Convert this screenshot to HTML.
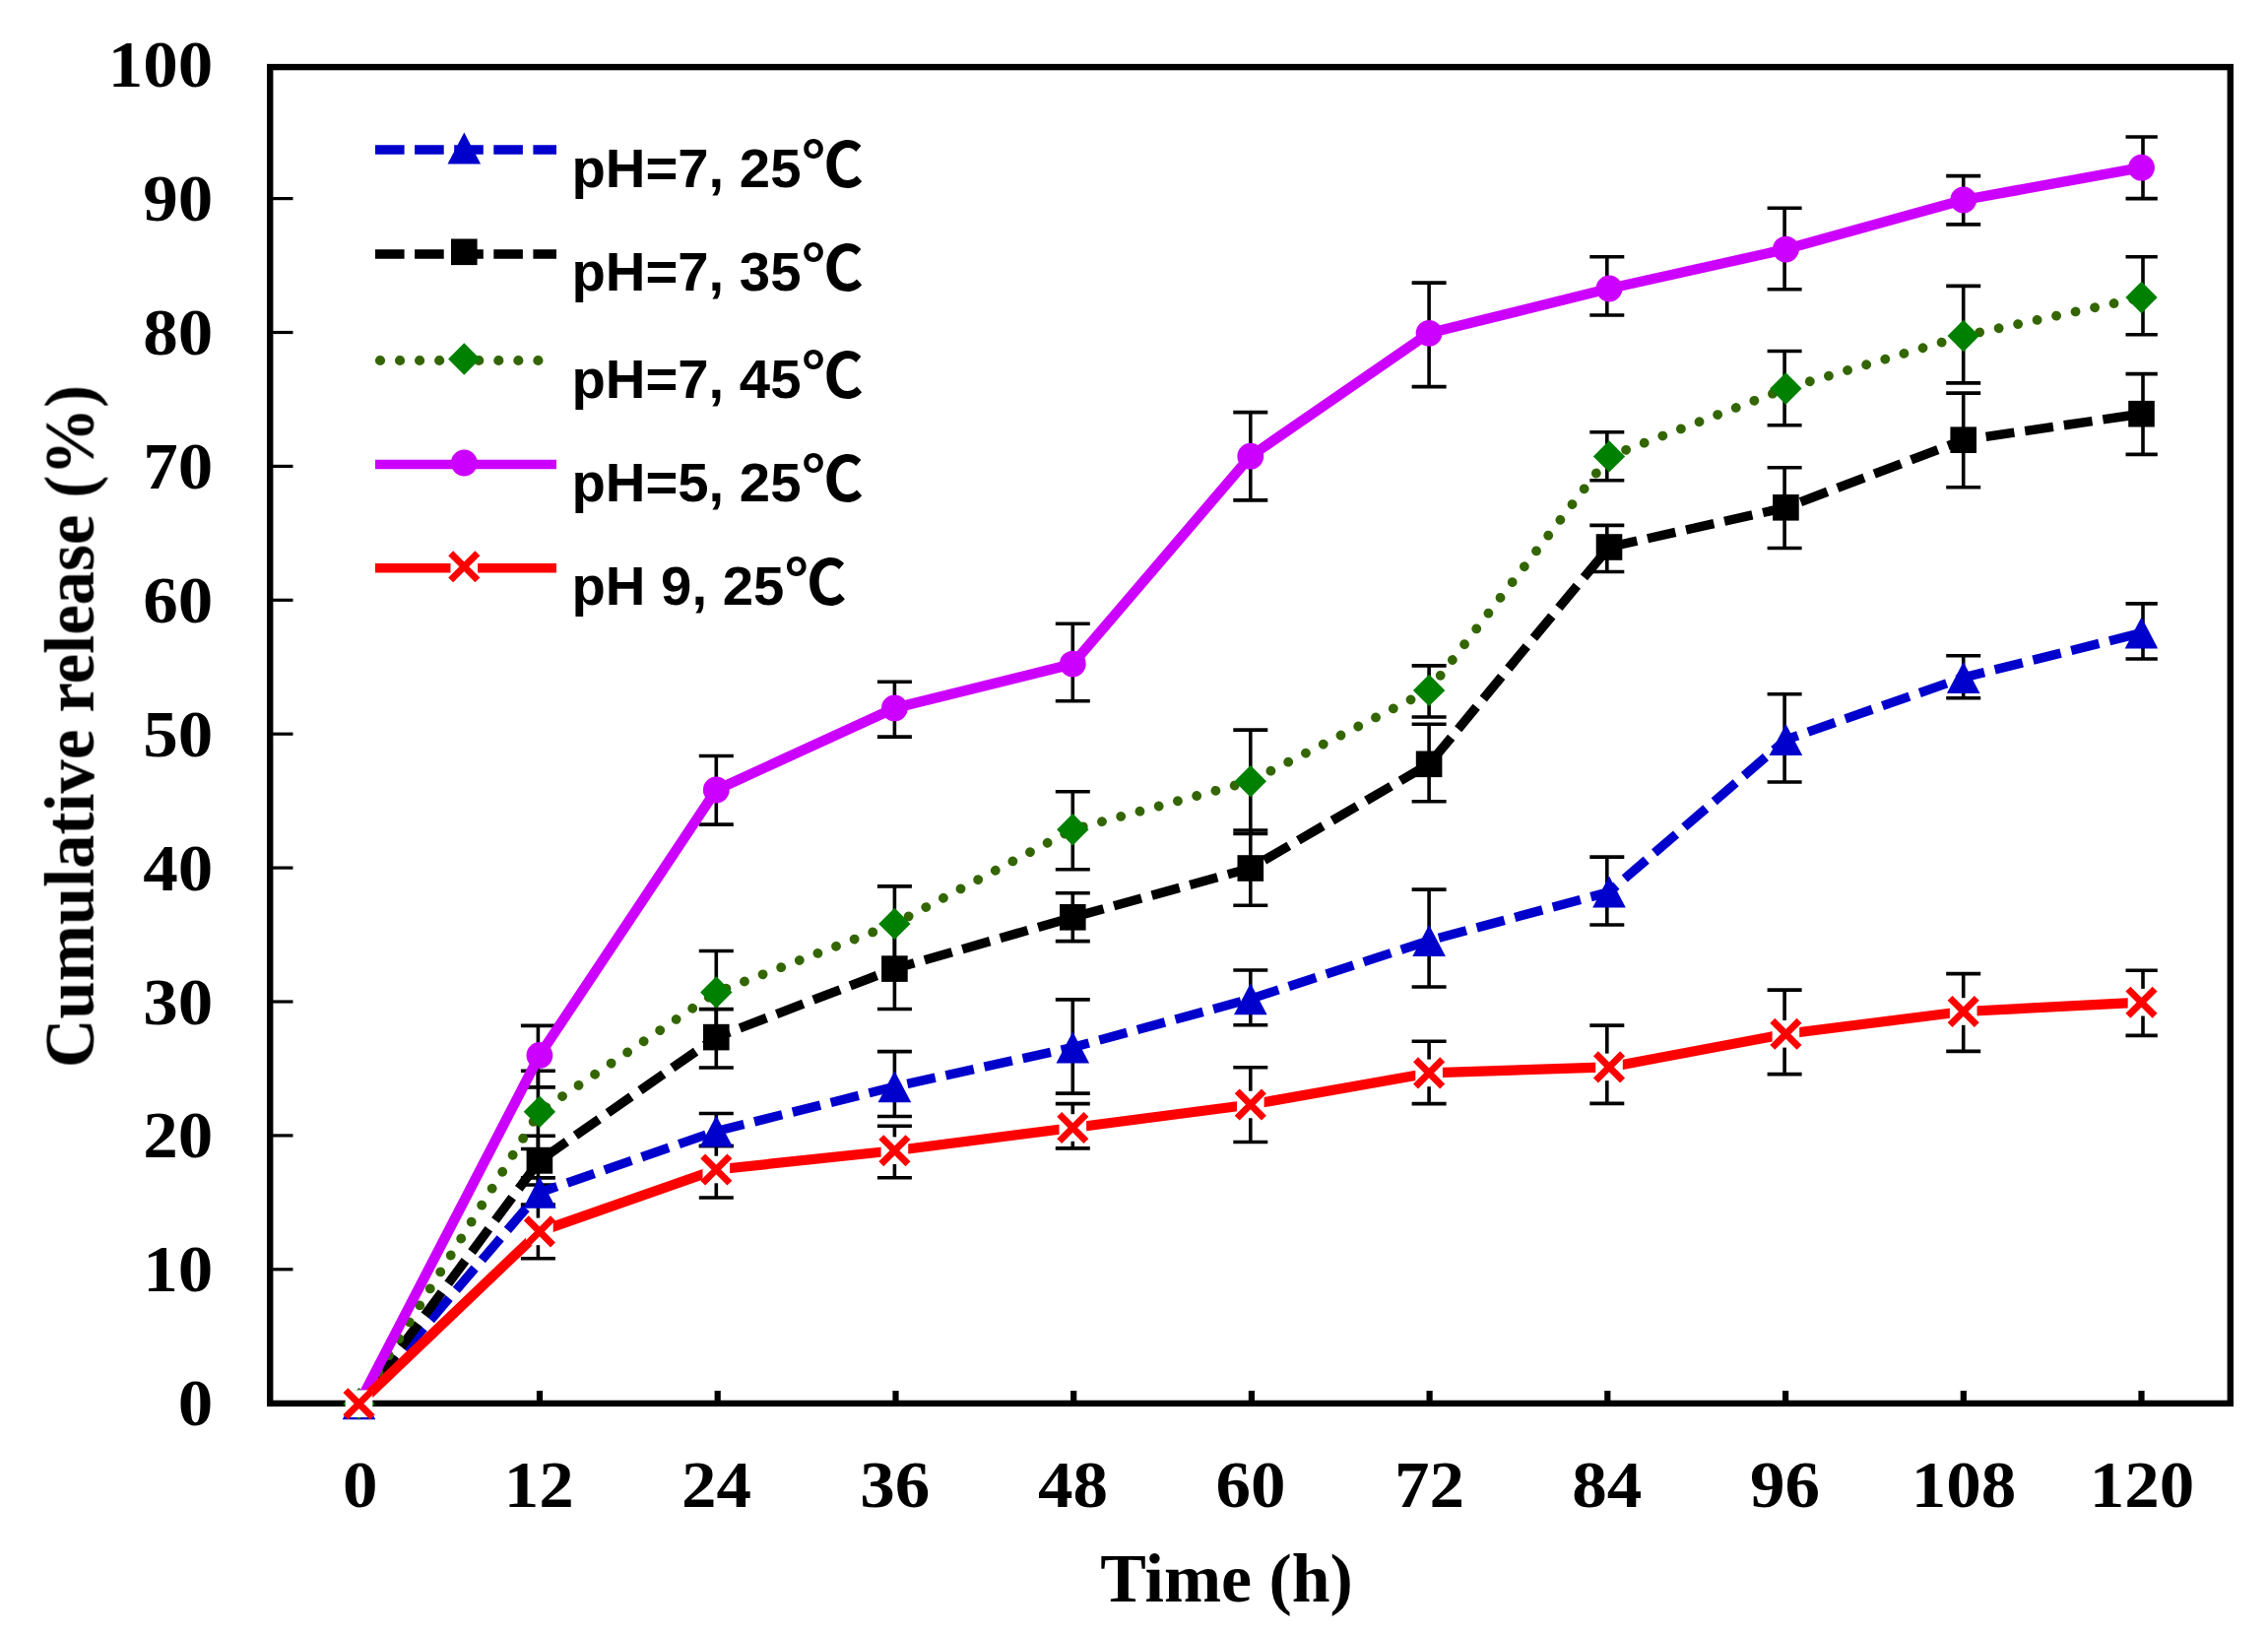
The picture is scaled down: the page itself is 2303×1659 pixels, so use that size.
<!DOCTYPE html>
<html lang="en"><head><meta charset="utf-8"><title>Cumulative release</title>
<style>html,body{margin:0;padding:0;background:#fff}body{width:2303px;height:1659px;overflow:hidden}svg{display:block}
.s{font-family:"Liberation Serif",serif;font-weight:bold;font-size:68px;fill:#000}
.l{font-family:"Liberation Sans",sans-serif;font-weight:bold;font-size:54.6px;fill:#000}
.c{font-family:"Liberation Sans","Noto Sans CJK SC",sans-serif;font-weight:bold;font-size:62px;fill:#000}
</style></head><body>
<svg width="2303" height="1659" viewBox="0 0 2303 1659">
<rect width="2303" height="1659" fill="#fff"/>
<defs><filter id="soft" x="0" y="0" width="2303" height="1659" filterUnits="userSpaceOnUse" color-interpolation-filters="sRGB"><feGaussianBlur stdDeviation="0.7" color-interpolation-filters="sRGB"/></filter></defs>
<g filter="url(#soft)">
<defs><clipPath id="cp"><rect x="277" y="60" width="1913.8" height="1400"/></clipPath></defs>
<g stroke="#000" stroke-width="3.2">
<line x1="276" y1="1288.8" x2="297.5" y2="1288.8"/>
<line x1="276" y1="1152.9" x2="297.5" y2="1152.9"/>
<line x1="276" y1="1017" x2="297.5" y2="1017"/>
<line x1="276" y1="881.1" x2="297.5" y2="881.1"/>
<line x1="276" y1="745.2" x2="297.5" y2="745.2"/>
<line x1="276" y1="609.3" x2="297.5" y2="609.3"/>
<line x1="276" y1="473.4" x2="297.5" y2="473.4"/>
<line x1="276" y1="337.5" x2="297.5" y2="337.5"/>
<line x1="276" y1="201.6" x2="297.5" y2="201.6"/>
</g>
<g stroke="#000" stroke-width="6.2">
<line x1="548" y1="1412" x2="548" y2="1423"/>
<line x1="728.7" y1="1412" x2="728.7" y2="1423"/>
<line x1="909.5" y1="1412" x2="909.5" y2="1423"/>
<line x1="1090.2" y1="1412" x2="1090.2" y2="1423"/>
<line x1="1270.9" y1="1412" x2="1270.9" y2="1423"/>
<line x1="1451.6" y1="1412" x2="1451.6" y2="1423"/>
<line x1="1632.3" y1="1412" x2="1632.3" y2="1423"/>
<line x1="1813.1" y1="1412" x2="1813.1" y2="1423"/>
<line x1="1993.8" y1="1412" x2="1993.8" y2="1423"/>
<line x1="2174.5" y1="1412" x2="2174.5" y2="1423"/>
</g>
<rect x="274.2" y="68.1" width="1990.6" height="1356.8" fill="none" stroke="#000" stroke-width="6.4"/>
<g clip-path="url(#cp)">
<g stroke="#000" stroke-width="3.6" fill="none">
<path d="M546.4 1195.9V1224M528.9 1195.9H563.9M528.9 1224H563.9M727.3 1130.5V1163.5M709.8 1130.5H744.8M709.8 1163.5H744.8M908.4 1067.6V1133.5M890.9 1067.6H925.9M890.9 1133.5H925.9M1089.3 1014.9V1110.1M1071.8 1014.9H1106.8M1071.8 1110.1H1106.8M1269.8 985V1040.8M1252.3 985H1287.3M1252.3 1040.8H1287.3M1451.1 903.1V1002M1433.6 903.1H1468.6M1433.6 1002H1468.6M1631.8 870.1V939M1614.3 870.1H1649.3M1614.3 939H1649.3M1812.1 704.7V794M1794.6 704.7H1829.6M1794.6 794H1829.6M1993.7 665.7V708.7M1976.2 665.7H2011.2M1976.2 708.7H2011.2M2176 612.9V669M2158.5 612.9H2193.5M2158.5 669H2193.5"/>
<path d="M546.4 1153.3V1203M528.9 1153.3H563.9M528.9 1203H563.9M727.3 1024.6V1084M709.8 1024.6H744.8M709.8 1084H744.8M908.4 942.7V1024.5M890.9 1024.5H925.9M1089.3 906.7V955.6M1071.8 906.7H1106.8M1071.8 955.6H1106.8M1269.8 843V919.2M1252.3 843H1287.3M1252.3 919.2H1287.3M1451.1 735.2V813.8M1433.6 735.2H1468.6M1433.6 813.8H1468.6M1631.8 533.4V580.5M1614.3 533.4H1649.3M1614.3 580.5H1649.3M1812.1 474.7V556.5M1794.6 474.7H1829.6M1794.6 556.5H1829.6M1993.7 399.1V494.8M1976.2 399.1H2011.2M1976.2 494.8H2011.2M2176 379.6V461.4M2158.5 379.6H2193.5M2158.5 461.4H2193.5"/>
<path d="M546.4 1087.3V1166.5M528.9 1087.3H563.9M528.9 1166.5H563.9M727.3 965.5V1050M709.8 965.5H744.8M908.4 899.9V983M890.9 899.9H925.9M1089.3 803.8V882.7M1071.8 803.8H1106.8M1071.8 882.7H1106.8M1269.8 741.1V846.5M1252.3 741.1H1287.3M1252.3 846.5H1287.3M1451.1 675.9V728M1433.6 675.9H1468.6M1433.6 728H1468.6M1631.8 438.7V487.7M1614.3 438.7H1649.3M1614.3 487.7H1649.3M1812.1 356.5V431.8M1794.6 356.5H1829.6M1794.6 431.8H1829.6M1993.7 290.4V388.9M1976.2 290.4H2011.2M1976.2 388.9H2011.2M2176 260.8V339.8M2158.5 260.8H2193.5M2158.5 339.8H2193.5"/>
<path d="M546.4 1041.4V1103.9M528.9 1041.4H563.9M528.9 1103.9H563.9M727.3 767.5V837.1M709.8 767.5H744.8M709.8 837.1H744.8M908.4 692.3V748.1M890.9 692.3H925.9M890.9 748.1H925.9M1089.3 633.3V711.7M1071.8 633.3H1106.8M1071.8 711.7H1106.8M1269.8 418.6V507.9M1252.3 418.6H1287.3M1252.3 507.9H1287.3M1451.1 287.1V392.6M1433.6 287.1H1468.6M1433.6 392.6H1468.6M1631.8 260.7V320M1614.3 260.7H1649.3M1614.3 320H1649.3M1812.1 211.2V293.7M1794.6 211.2H1829.6M1794.6 293.7H1829.6M1993.7 178.6V227.9M1976.2 178.6H2011.2M1976.2 227.9H2011.2M2176 139V201.6M2158.5 139H2193.5M2158.5 201.6H2193.5"/>
<path d="M546.4 1223V1277.8M528.9 1223H563.9M528.9 1277.8H563.9M727.3 1163.5V1216M709.8 1163.5H744.8M709.8 1216H744.8M908.4 1143.2V1195.7M890.9 1143.2H925.9M890.9 1195.7H925.9M1089.3 1120.6V1165.9M1071.8 1120.6H1106.8M1071.8 1165.9H1106.8M1269.8 1083.8V1159.5M1252.3 1083.8H1287.3M1252.3 1159.5H1287.3M1451.1 1057.3V1120.6M1433.6 1057.3H1468.6M1433.6 1120.6H1468.6M1631.8 1041.1V1120.4M1614.3 1041.1H1649.3M1614.3 1120.4H1649.3M1812.1 1005.1V1090.6M1794.6 1005.1H1829.6M1794.6 1090.6H1829.6M1993.7 988.6V1067.4M1976.2 988.6H2011.2M1976.2 1067.4H2011.2M2176 985.3V1051.4M2158.5 985.3H2193.5M2158.5 1051.4H2193.5"/>
</g>
<polyline points="364.5,1425.2 547.9,1210.8 727.3,1148.5 908.4,1103.3 1089.3,1063.4 1269.8,1014.2 1451.1,955 1634,905.6 1813.4,751 1993.7,687.9 2174.5,642.6" fill="none" stroke="#0000cc" stroke-width="9.4" stroke-linecap="butt" stroke-linejoin="round" stroke-dasharray="29 11" stroke-dashoffset="8"/>
<path d="M364.5 1409.2L347.7 1441.2L381.3 1441.2Z" fill="#0000cc"/>
<path d="M547.9 1194.8L531.1 1226.8L564.7 1226.8Z" fill="#0000cc"/>
<path d="M727.3 1132.5L710.5 1164.5L744.1 1164.5Z" fill="#0000cc"/>
<path d="M908.4 1087.3L891.6 1119.3L925.2 1119.3Z" fill="#0000cc"/>
<path d="M1089.3 1047.4L1072.5 1079.4L1106.1 1079.4Z" fill="#0000cc"/>
<path d="M1269.8 998.2L1253 1030.2L1286.6 1030.2Z" fill="#0000cc"/>
<path d="M1451.1 939L1434.3 971L1467.9 971Z" fill="#0000cc"/>
<path d="M1634 889.6L1617.2 921.6L1650.8 921.6Z" fill="#0000cc"/>
<path d="M1813.4 735L1796.6 767L1830.2 767Z" fill="#0000cc"/>
<path d="M1993.7 671.9L1976.9 703.9L2010.5 703.9Z" fill="#0000cc"/>
<path d="M2174.5 626.6L2157.7 658.6L2191.3 658.6Z" fill="#0000cc"/>
<polyline points="364.5,1425.2 547.9,1178.4 727.3,1053.1 908.4,983.6 1089.3,931.3 1269.8,881.5 1451.1,775.8 1634,555.5 1813.4,515.3 1993.7,446.7 2174.5,420.2" fill="none" stroke="#000000" stroke-width="9.4" stroke-linecap="butt" stroke-linejoin="round" stroke-dasharray="29 11" stroke-dashoffset="8"/>
<rect x="351.2" y="1411.9" width="26.6" height="26.6" fill="#000000"/>
<rect x="534.6" y="1165.1" width="26.6" height="26.6" fill="#000000"/>
<rect x="714" y="1039.8" width="26.6" height="26.6" fill="#000000"/>
<rect x="895.1" y="970.3" width="26.6" height="26.6" fill="#000000"/>
<rect x="1076" y="918" width="26.6" height="26.6" fill="#000000"/>
<rect x="1256.5" y="868.2" width="26.6" height="26.6" fill="#000000"/>
<rect x="1437.8" y="762.5" width="26.6" height="26.6" fill="#000000"/>
<rect x="1620.7" y="542.2" width="26.6" height="26.6" fill="#000000"/>
<rect x="1800.1" y="502" width="26.6" height="26.6" fill="#000000"/>
<rect x="1980.4" y="433.4" width="26.6" height="26.6" fill="#000000"/>
<rect x="2161.2" y="406.9" width="26.6" height="26.6" fill="#000000"/>
<polyline points="364.5,1425.2 547.9,1128.7 727.3,1007.5 908.4,937.9 1089.3,842.2 1269.8,793.2 1451.1,700.9 1634,463.4 1813.4,394.5 1993.7,341 2174.5,302" fill="none" stroke="#336600" stroke-width="9.8" stroke-linecap="round" stroke-linejoin="round" stroke-dasharray="0.01 19.925" stroke-dashoffset="2.2"/>
<path d="M364.5 1409L380.7 1425.2L364.5 1441.4L348.3 1425.2Z" fill="#008000"/>
<path d="M547.9 1112.5L564.1 1128.7L547.9 1144.9L531.7 1128.7Z" fill="#008000"/>
<path d="M727.3 991.3L743.5 1007.5L727.3 1023.7L711.1 1007.5Z" fill="#008000"/>
<path d="M908.4 921.7L924.6 937.9L908.4 954.1L892.2 937.9Z" fill="#008000"/>
<path d="M1089.3 826L1105.5 842.2L1089.3 858.4L1073.1 842.2Z" fill="#008000"/>
<path d="M1269.8 777L1286 793.2L1269.8 809.4L1253.6 793.2Z" fill="#008000"/>
<path d="M1451.1 684.7L1467.3 700.9L1451.1 717.1L1434.9 700.9Z" fill="#008000"/>
<path d="M1634 447.2L1650.2 463.4L1634 479.6L1617.8 463.4Z" fill="#008000"/>
<path d="M1813.4 378.3L1829.6 394.5L1813.4 410.7L1797.2 394.5Z" fill="#008000"/>
<path d="M1993.7 324.8L2009.9 341L1993.7 357.2L1977.5 341Z" fill="#008000"/>
<path d="M2174.5 285.8L2190.7 302L2174.5 318.2L2158.3 302Z" fill="#008000"/>
<polyline points="364.5,1425.2 547.9,1071.4 727.3,802 908.4,718.9 1089.3,674.1 1269.8,463.2 1451.1,338.3 1634,293 1813.4,253.1 1993.7,203 2174.5,170.2" fill="none" stroke="#cc00ff" stroke-width="10.4" stroke-linecap="butt" stroke-linejoin="round"/>
<circle cx="364.5" cy="1425.2" r="13.4" fill="#cc00ff"/>
<circle cx="547.9" cy="1071.4" r="13.4" fill="#cc00ff"/>
<circle cx="727.3" cy="802" r="13.4" fill="#cc00ff"/>
<circle cx="908.4" cy="718.9" r="13.4" fill="#cc00ff"/>
<circle cx="1089.3" cy="674.1" r="13.4" fill="#cc00ff"/>
<circle cx="1269.8" cy="463.2" r="13.4" fill="#cc00ff"/>
<circle cx="1451.1" cy="338.3" r="13.4" fill="#cc00ff"/>
<circle cx="1634" cy="293" r="13.4" fill="#cc00ff"/>
<circle cx="1813.4" cy="253.1" r="13.4" fill="#cc00ff"/>
<circle cx="1993.7" cy="203" r="13.4" fill="#cc00ff"/>
<circle cx="2174.5" cy="170.2" r="13.4" fill="#cc00ff"/>
<polyline points="364.5,1425.2 547.9,1250.4 727.3,1187.5 908.4,1168.2 1089.3,1145 1269.8,1121.5 1451.1,1089.4 1634,1083.4 1813.4,1049.8 1993.7,1027 2174.5,1017.7" fill="none" stroke="#ff0000" stroke-width="10.2" stroke-linecap="butt" stroke-linejoin="round"/>
<rect x="350.7" y="1411.4" width="27.6" height="27.6" fill="#fff"/><path d="M350.9 1411.6L378.1 1438.8M350.9 1438.8L378.1 1411.6" stroke="#ff0000" stroke-width="7" fill="none"/>
<rect x="534.1" y="1236.6" width="27.6" height="27.6" fill="#fff"/><path d="M534.3 1236.8L561.5 1264M534.3 1264L561.5 1236.8" stroke="#ff0000" stroke-width="7" fill="none"/>
<rect x="713.5" y="1173.7" width="27.6" height="27.6" fill="#fff"/><path d="M713.7 1173.9L740.9 1201.1M713.7 1201.1L740.9 1173.9" stroke="#ff0000" stroke-width="7" fill="none"/>
<rect x="894.6" y="1154.4" width="27.6" height="27.6" fill="#fff"/><path d="M894.8 1154.6L922 1181.8M894.8 1181.8L922 1154.6" stroke="#ff0000" stroke-width="7" fill="none"/>
<rect x="1075.5" y="1131.2" width="27.6" height="27.6" fill="#fff"/><path d="M1075.7 1131.4L1102.9 1158.6M1075.7 1158.6L1102.9 1131.4" stroke="#ff0000" stroke-width="7" fill="none"/>
<rect x="1256" y="1107.7" width="27.6" height="27.6" fill="#fff"/><path d="M1256.2 1107.9L1283.4 1135.1M1256.2 1135.1L1283.4 1107.9" stroke="#ff0000" stroke-width="7" fill="none"/>
<rect x="1437.3" y="1075.6" width="27.6" height="27.6" fill="#fff"/><path d="M1437.5 1075.8L1464.7 1103M1437.5 1103L1464.7 1075.8" stroke="#ff0000" stroke-width="7" fill="none"/>
<rect x="1620.2" y="1069.6" width="27.6" height="27.6" fill="#fff"/><path d="M1620.4 1069.8L1647.6 1097M1620.4 1097L1647.6 1069.8" stroke="#ff0000" stroke-width="7" fill="none"/>
<rect x="1799.6" y="1036" width="27.6" height="27.6" fill="#fff"/><path d="M1799.8 1036.2L1827 1063.4M1799.8 1063.4L1827 1036.2" stroke="#ff0000" stroke-width="7" fill="none"/>
<rect x="1979.9" y="1013.2" width="27.6" height="27.6" fill="#fff"/><path d="M1980.1 1013.4L2007.3 1040.6M1980.1 1040.6L2007.3 1013.4" stroke="#ff0000" stroke-width="7" fill="none"/>
<rect x="2160.7" y="1003.9" width="27.6" height="27.6" fill="#fff"/><path d="M2160.9 1004.1L2188.1 1031.3M2160.9 1031.3L2188.1 1004.1" stroke="#ff0000" stroke-width="7" fill="none"/>
</g>
<text class="s" transform="translate(216.3 1447.2) scale(1.045 1)" text-anchor="end">0</text>
<text class="s" transform="translate(216.3 1311.3) scale(1.045 1)" text-anchor="end">10</text>
<text class="s" transform="translate(216.3 1175.4) scale(1.045 1)" text-anchor="end">20</text>
<text class="s" transform="translate(216.3 1039.5) scale(1.045 1)" text-anchor="end">30</text>
<text class="s" transform="translate(216.3 903.6) scale(1.045 1)" text-anchor="end">40</text>
<text class="s" transform="translate(216.3 767.7) scale(1.045 1)" text-anchor="end">50</text>
<text class="s" transform="translate(216.3 631.8) scale(1.045 1)" text-anchor="end">60</text>
<text class="s" transform="translate(216.3 495.9) scale(1.045 1)" text-anchor="end">70</text>
<text class="s" transform="translate(216.3 360) scale(1.045 1)" text-anchor="end">80</text>
<text class="s" transform="translate(216.3 224.1) scale(1.045 1)" text-anchor="end">90</text>
<text class="s" transform="translate(216.3 88.2) scale(1.045 1)" text-anchor="end">100</text>
<text class="s" transform="translate(365.8 1529.7) scale(1.045 1)" text-anchor="middle">0</text>
<text class="s" transform="translate(547.3 1529.7) scale(1.045 1)" text-anchor="middle">12</text>
<text class="s" transform="translate(727.6 1529.7) scale(1.045 1)" text-anchor="middle">24</text>
<text class="s" transform="translate(908.7 1529.7) scale(1.045 1)" text-anchor="middle">36</text>
<text class="s" transform="translate(1089.6 1529.7) scale(1.045 1)" text-anchor="middle">48</text>
<text class="s" transform="translate(1270.1 1529.7) scale(1.045 1)" text-anchor="middle">60</text>
<text class="s" transform="translate(1451.4 1529.7) scale(1.045 1)" text-anchor="middle">72</text>
<text class="s" transform="translate(1631.8 1529.7) scale(1.045 1)" text-anchor="middle">84</text>
<text class="s" transform="translate(1812.6 1529.7) scale(1.045 1)" text-anchor="middle">96</text>
<text class="s" transform="translate(1994 1529.7) scale(1.045 1)" text-anchor="middle">108</text>
<text class="s" transform="translate(2175 1529.7) scale(1.045 1)" text-anchor="middle">120</text>
<text class="s" x="1245.5" y="1626" text-anchor="middle" style="font-size:69.8px">Time (h)</text>
<text class="s" transform="translate(94.5 737.6) scale(1.06 1) rotate(-90)" text-anchor="middle" style="font-size:68.7px">Cumulative release (%)</text>
<line x1="381" y1="152" x2="565" y2="152" stroke="#0000cc" stroke-width="9.4" stroke-linecap="butt" stroke-dasharray="29.6 10.5"/>
<path d="M471.3 134.5L454.5 166.5L488.1 166.5Z" fill="#0000cc"/>
<text class="l" x="580.4" y="190.2" textLength="233.1" lengthAdjust="spacingAndGlyphs">pH=7, 25</text>
<text class="c" x="814.5" y="190.2">℃</text>
<line x1="381" y1="258" x2="565" y2="258" stroke="#000000" stroke-width="9.4" stroke-linecap="butt" stroke-dasharray="29.6 10.5"/>
<rect x="458" y="242.5" width="26.6" height="26.6" fill="#000000"/>
<text class="l" x="580.4" y="294.7" textLength="233.1" lengthAdjust="spacingAndGlyphs">pH=7, 35</text>
<text class="c" x="814.5" y="294.7">℃</text>
<line x1="386" y1="366" x2="546.6" y2="366" stroke="#336600" stroke-width="10.2" stroke-linecap="round" stroke-dasharray="0.01 20.04"/>
<path d="M471.3 348.3L487.5 364.5L471.3 380.7L455.1 364.5Z" fill="#008000"/>
<text class="l" x="580.4" y="404" textLength="233.1" lengthAdjust="spacingAndGlyphs">pH=7, 45</text>
<text class="c" x="814.5" y="404">℃</text>
<line x1="381" y1="471.5" x2="565" y2="471.5" stroke="#cc00ff" stroke-width="9.4" stroke-linecap="butt"/>
<circle cx="471.3" cy="470" r="13.4" fill="#cc00ff"/>
<text class="l" x="580.4" y="508.9" textLength="233.1" lengthAdjust="spacingAndGlyphs">pH=5, 25</text>
<text class="c" x="814.5" y="508.9">℃</text>
<line x1="381" y1="576.8" x2="565" y2="576.8" stroke="#ff0000" stroke-width="9.4" stroke-linecap="butt"/>
<rect x="457.5" y="561.5" width="27.6" height="27.6" fill="#fff"/><path d="M457.7 561.7L484.9 588.9M457.7 588.9L484.9 561.7" stroke="#ff0000" stroke-width="7" fill="none"/>
<text class="l" x="580.4" y="614.3" textLength="215.9" lengthAdjust="spacingAndGlyphs">pH 9, 25</text>
<text class="c" x="797.3" y="614.3">℃</text>
</g>
</svg></body></html>
